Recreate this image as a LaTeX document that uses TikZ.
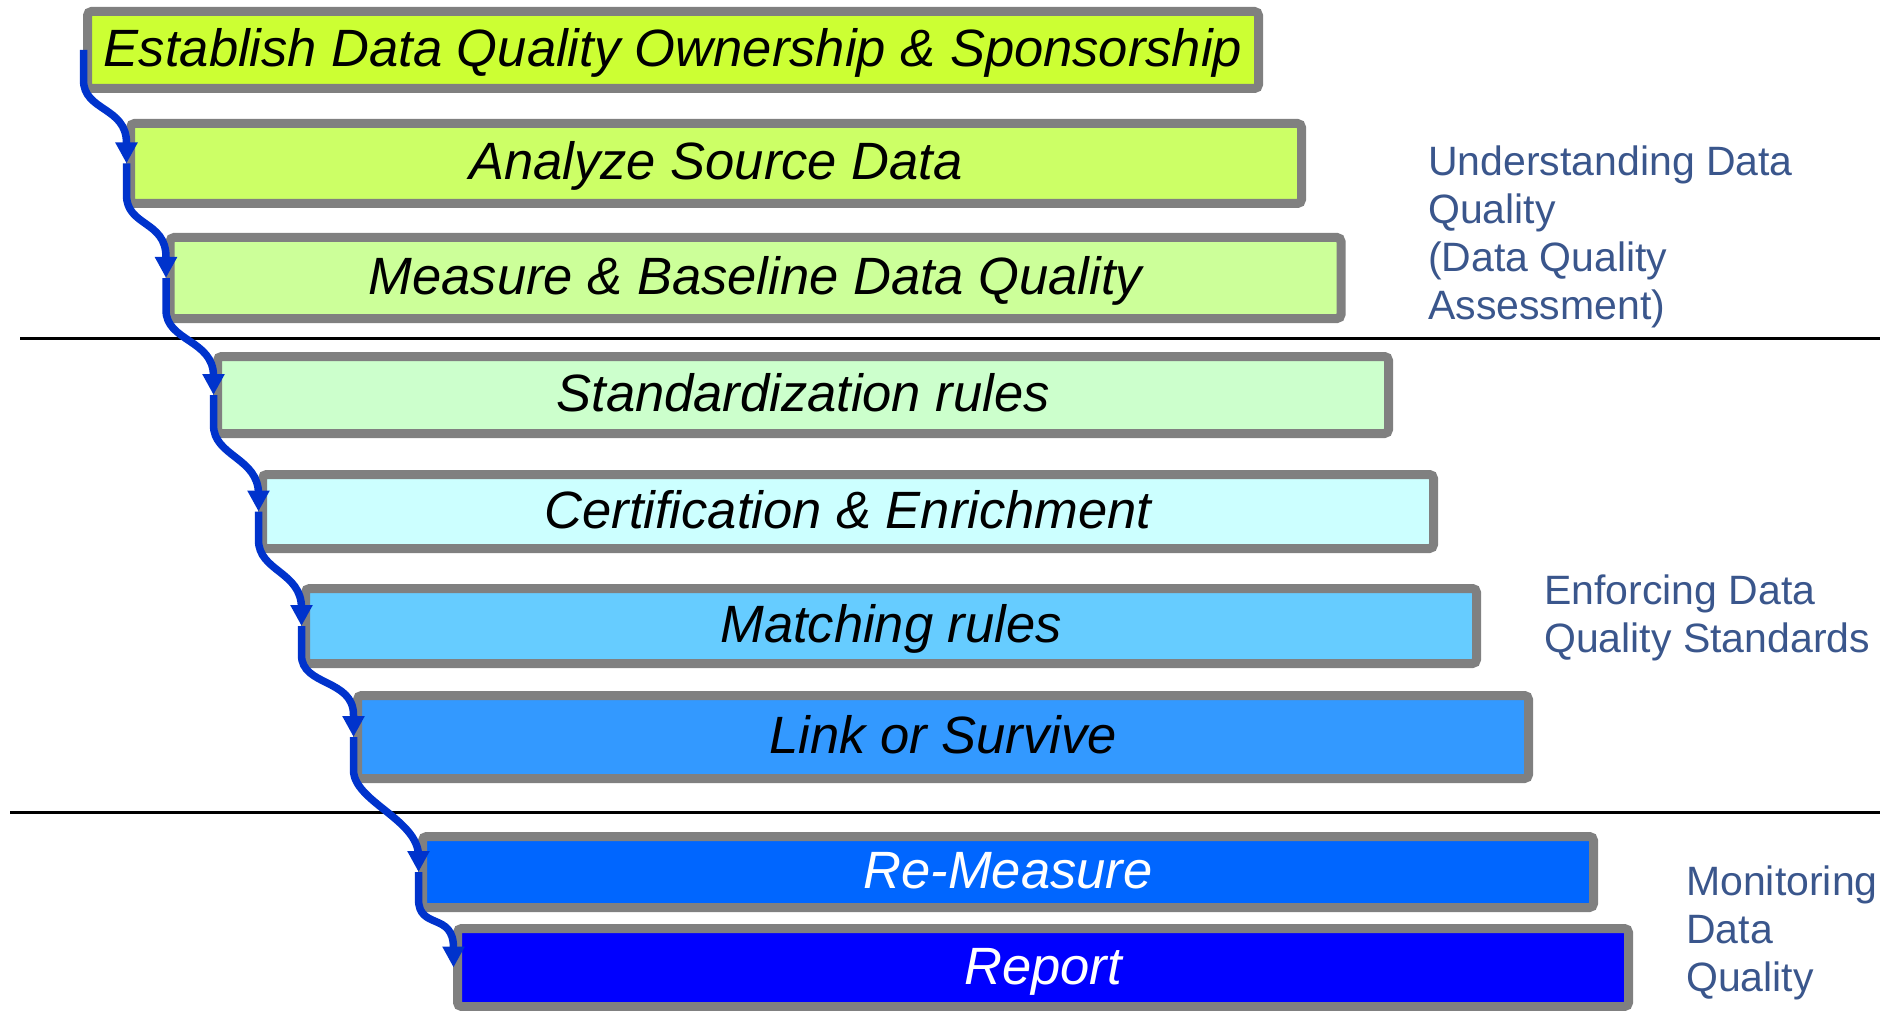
\documentclass[tikz,border=0pt]{standalone}
\usepackage{fontspec}
\setmainfont{Liberation Sans}
\usetikzlibrary{arrows.meta}
\definecolor{boxgray}{RGB}{128,128,128}
\definecolor{flowblue}{RGB}{0,51,204}
\definecolor{phaseblue}{RGB}{58,86,140}
\definecolor{cA}{RGB}{204,255,51}
\definecolor{cB}{RGB}{204,255,102}
\definecolor{cC}{RGB}{204,255,153}
\definecolor{cD}{RGB}{204,255,204}
\definecolor{cE}{RGB}{204,255,255}
\definecolor{cF}{RGB}{102,204,255}
\definecolor{cG}{RGB}{51,153,255}
\definecolor{cH}{RGB}{0,102,255}
\definecolor{cI}{RGB}{0,0,255}
\begin{document}
\begin{tikzpicture}[x=1pt,y=-1pt,
  stage/.style={draw=boxgray, line width=9pt, rounded corners=4pt,
    minimum width=1171pt, inner sep=0pt, outer sep=0pt,
    text height=33pt, text depth=0pt,
    font=\fontsize{52.5}{60}\selectfont\itshape, text=black},
  flow/.style={draw=flowblue, line width=7.5pt, -{Triangle[length=21pt,width=21pt]}},
  phase/.style={anchor=north west, align=left, inner sep=0pt, text=phaseblue,
    font=\fontsize{41}{48}\selectfont},
  sepline/.style={line width=3pt, black}]
\useasboundingbox (0,0) rectangle (1880,1011);
% separators
\coordinate (s1a) at (20,338);
\coordinate (s1b) at (1880,338);
\coordinate (s2a) at (10,812);
\coordinate (s2b) at (1880,812);
\draw[sepline] (s1a) -- (s1b);
\draw[sepline] (s2a) -- (s2b);
% stages
\node[stage, fill=cA, minimum height=77pt] (b1) at (673,50) {Establish Data Quality Ownership \& Sponsorship};
\node[stage, fill=cB, minimum height=80pt] (b2) at (716,163.5) {Analyze Source Data};
\node[stage, fill=cC, minimum height=81pt] (b3) at (755.5,278) {Measure \& Baseline Data Quality};
\node[stage, fill=cD, minimum height=77pt] (b4) at (803,395) {Standardization rules};
\node[stage, fill=cE, minimum height=74pt] (b5) at (848,511.5) {Certification \& Enrichment};
\node[stage, fill=cF, minimum height=75pt] (b6) at (891,626) {Matching rules};
\node[stage, fill=cG, minimum height=83pt] (b7) at (943,737) {Link or Survive};
\node[stage, fill=cH, minimum height=71pt, text=white] (b8) at (1008,872) {Re-Measure};
\node[stage, fill=cI, minimum height=78pt, text=white] (b9) at (1043,967.5) {Report};
% flow connectors
\foreach \a/\b in {b1/b2,b2/b3,b3/b4,b4/b5,b5/b6,b6/b7,b7/b8,b8/b9}{
  \draw[flow] ([xshift=-4pt]\a.west) -- ([xshift=-4pt,yshift=8.5pt]\a.south west)
    .. controls ([xshift=-4pt,yshift=-23pt]\a.south west) and ([xshift=-4pt,yshift=17pt]\b.north west)
    .. ([xshift=-4pt,yshift=-19.5pt]\b.north west) -- ([xshift=-4pt]\b.west);
}
% phase labels
\node[phase] (p1) at (1428,145.5) {Understanding Data\\Quality\\(Data Quality\\Assessment)};
\node[phase] (p2) at (1544,575) {Enforcing Data\\Quality Standards};
\node[phase] (p3) at (1686,865.5) {Monitoring\\Data\\Quality};
\end{tikzpicture}
\end{document}
